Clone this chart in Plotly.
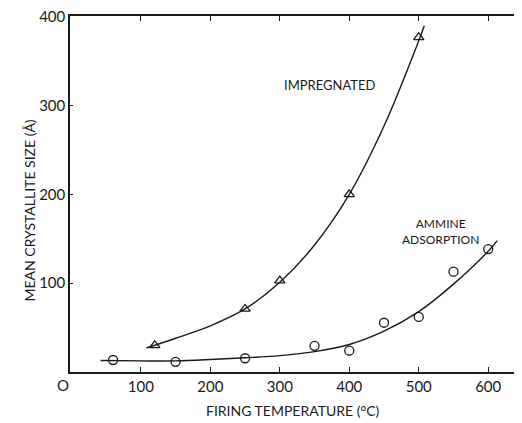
import plotly.graph_objects as go

# Measured points
imp_x = [120, 250, 300, 400, 500]
imp_y = [30, 71, 103, 200, 377]
amm_x = [60, 150, 250, 350, 400, 450, 500, 550, 600]
amm_y = [13.5, 11.5, 15.5, 29.5, 24, 55.5, 62, 113, 138.5]

# Hand-drawn fitted curves
imp_curve_x = [108, 150, 200, 250, 300, 350, 400, 450, 500, 508]
imp_curve_y = [27, 38, 52, 71, 101, 143, 200, 277, 373, 390]
amm_curve_x = [42, 100, 150, 200, 250, 300, 350, 400, 450, 500, 550, 600, 613]
amm_curve_y = [13, 12.5, 12.5, 14, 16, 18.5, 23, 31, 46, 68, 99, 136, 148]

x_ticks = [100, 200, 300, 400, 500, 600]
y_ticks = [100, 200, 300, 400]

FONT = "Lato"
INK = "#1a1a1a"

fig = go.Figure()
fig.add_trace(go.Scatter(x=imp_curve_x, y=imp_curve_y, mode="lines",
                         line=dict(color=INK, width=1.4, shape="spline", smoothing=1.0),
                         hoverinfo="skip", showlegend=False))
fig.add_trace(go.Scatter(x=amm_curve_x, y=amm_curve_y, mode="lines",
                         line=dict(color=INK, width=1.4, shape="spline", smoothing=1.0),
                         hoverinfo="skip", showlegend=False))
fig.add_trace(go.Scatter(x=imp_x, y=imp_y, mode="markers", name="Impregnated",
                         marker=dict(symbol="triangle-up-open", size=9,
                                     color=INK, line=dict(width=1.3)),
                         showlegend=False))
fig.add_trace(go.Scatter(x=amm_x, y=amm_y, mode="markers", name="Ammine adsorption",
                         marker=dict(symbol="circle-open", size=9,
                                     color=INK, line=dict(width=1.3)),
                         showlegend=False))

fig.update_layout(
    width=514, height=415,
    margin=dict(l=62, r=6, t=8, b=51),
    paper_bgcolor="white", plot_bgcolor="white",
    font=dict(family=FONT, size=13, color=INK),
    xaxis=dict(range=[-2, 640], tickmode="array", tickvals=x_ticks,
               ticks="inside", ticklen=5,
               tickcolor=INK, showline=True, linecolor=INK, linewidth=1.5,
               mirror="ticks", showgrid=False, zeroline=False, automargin=False,
               tickfont=dict(family=FONT, size=15, color=INK)),
    yaxis=dict(range=[0, 401], tickmode="array", tickvals=y_ticks,
               ticktext=[str(v) for v in y_ticks],
               ticks="inside", ticklen=3, ticklabeloverflow="allow",
               tickcolor=INK, showline=True, linecolor=INK, linewidth=1.5,
               showgrid=False, zeroline=False, automargin=False,
               tickfont=dict(family=FONT, size=15, color=INK)),
    annotations=[
        dict(x=372, y=323, xref="x", yref="y", text="IMPREGNATED", showarrow=False,
             font=dict(family=FONT, size=13, color=INK)),
        dict(x=532, y=158, xref="x", yref="y", text="AMMINE<br>ADSORPTION",
             showarrow=False, font=dict(family=FONT, size=12, color=INK)),
        dict(x=-0.0157, y=-0.0366, xref="paper", yref="paper", text="O",
             showarrow=False, xanchor="center", yanchor="middle",
             font=dict(family=FONT, size=15, color=INK)),
        dict(x=0.5, y=-0.107, xref="paper", yref="paper", yanchor="middle",
             text="FIRING TEMPERATURE (°C)", showarrow=False,
             font=dict(family=FONT, size=14, color=INK)),
        dict(x=-0.0897, y=0.4535, xref="paper", yref="paper", textangle=-90,
             xanchor="center", yanchor="middle",
             text="MEAN CRYSTALLITE SIZE (Å)", showarrow=False,
             font=dict(family=FONT, size=14, color=INK)),
    ],
)

fig.write_html("out.html")
